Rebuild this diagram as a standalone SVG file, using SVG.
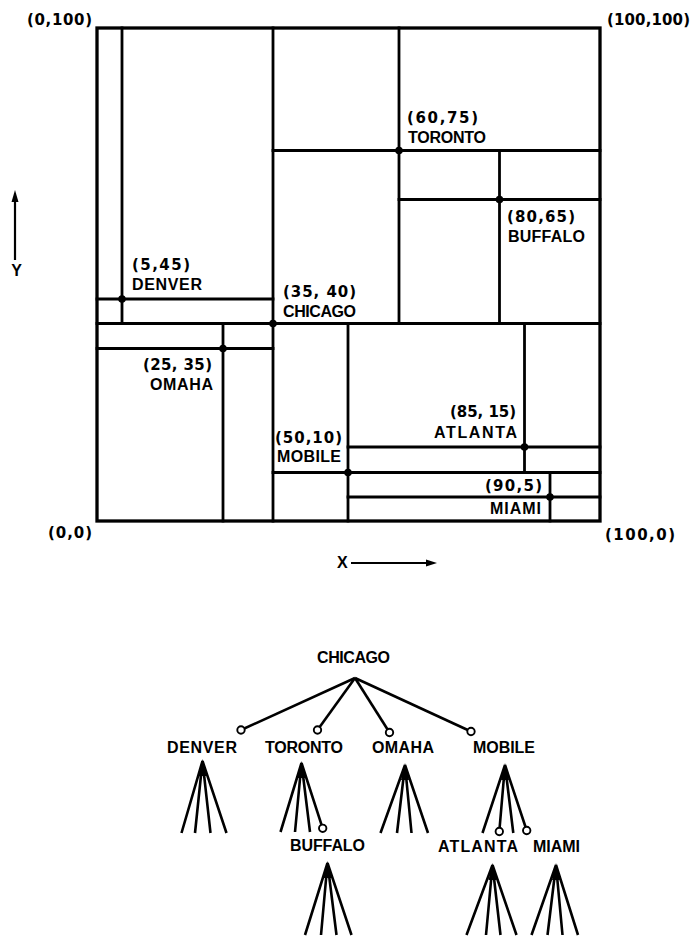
<svg xmlns="http://www.w3.org/2000/svg" width="692" height="941" viewBox="0 0 692 941">
<style>
.ln{stroke:#000;stroke-width:2.8;fill:none;stroke-linecap:square}
.bd{stroke:#000;stroke-width:3.3;fill:none}
.dot{fill:#000}
.t{font-family:"Liberation Sans","DejaVu Sans",sans-serif;font-weight:bold;font-size:16px;fill:#000}
.n{font-family:"DejaVu Sans","Liberation Sans",sans-serif;font-weight:bold;font-size:15px;fill:#000}
.fan{stroke:#000;stroke-width:2.6;fill:none;stroke-linecap:butt}
.oc{fill:#fff;stroke:#000;stroke-width:1.9}
.ax{stroke:#000;stroke-width:2.2;fill:none}
</style>
<rect width="692" height="941" fill="#fff"/>
<g id="map">
  <rect class="bd" x="97" y="28" width="503" height="493"/>
  <g id="chicago-split">
    <line class="ln" x1="273" y1="28" x2="273" y2="521"/>
    <line class="ln" x1="97" y1="323.5" x2="600" y2="323.5"/>
  </g>
  <g id="denver-split">
    <line class="ln" x1="122" y1="28" x2="122" y2="323.5"/>
    <line class="ln" x1="97" y1="299" x2="273" y2="299"/>
  </g>
  <g id="toronto-split">
    <line class="ln" x1="399" y1="28" x2="399" y2="323.5"/>
    <line class="ln" x1="273" y1="150.5" x2="600" y2="150.5"/>
  </g>
  <g id="buffalo-split">
    <line class="ln" x1="499.5" y1="150.5" x2="499.5" y2="323.5"/>
    <line class="ln" x1="399" y1="199.5" x2="600" y2="199.5"/>
  </g>
  <g id="omaha-split">
    <line class="ln" x1="223" y1="323.5" x2="223" y2="521"/>
    <line class="ln" x1="97" y1="348.5" x2="273" y2="348.5"/>
  </g>
  <g id="mobile-split">
    <line class="ln" x1="348" y1="323.5" x2="348" y2="521"/>
    <line class="ln" x1="273" y1="472.5" x2="600" y2="472.5"/>
  </g>
  <g id="atlanta-split">
    <line class="ln" x1="524.5" y1="323.5" x2="524.5" y2="472.5"/>
    <line class="ln" x1="348" y1="447" x2="600" y2="447"/>
  </g>
  <g id="miami-split">
    <line class="ln" x1="550" y1="472.5" x2="550" y2="521"/>
    <line class="ln" x1="348" y1="497" x2="600" y2="497"/>
  </g>
  <g id="points">
    <circle class="dot" cx="273" cy="323.5" r="3.8"/>
    <circle class="dot" cx="122" cy="299" r="3.8"/>
    <circle class="dot" cx="399" cy="150.5" r="3.8"/>
    <circle class="dot" cx="499.5" cy="199.5" r="3.8"/>
    <circle class="dot" cx="223" cy="348.5" r="3.8"/>
    <circle class="dot" cx="348" cy="472.5" r="3.8"/>
    <circle class="dot" cx="524.5" cy="447" r="3.8"/>
    <circle class="dot" cx="550" cy="497" r="3.8"/>
  </g>
  <g id="map-labels">
    <text class="n" x="407" y="123" textLength="71" lengthAdjust="spacing">(60,75)</text>
    <text class="t" x="408" y="143" textLength="78" lengthAdjust="spacing">TORONTO</text>
    <text class="n" x="507" y="222" textLength="68" lengthAdjust="spacing">(80,65)</text>
    <text class="t" x="508" y="242" textLength="77" lengthAdjust="spacing">BUFFALO</text>
    <text class="n" x="132" y="270" textLength="58" lengthAdjust="spacing">(5,45)</text>
    <text class="t" x="132" y="290" textLength="70" lengthAdjust="spacing">DENVER</text>
    <text class="n" x="283" y="297" textLength="73" lengthAdjust="spacing">(35, 40)</text>
    <text class="t" x="283" y="317" textLength="73" lengthAdjust="spacing">CHICAGO</text>
    <text class="n" x="143" y="370" textLength="69" lengthAdjust="spacing">(25, 35)</text>
    <text class="t" x="150" y="390" textLength="63" lengthAdjust="spacing">OMAHA</text>
    <text class="n" x="450" y="417" textLength="66" lengthAdjust="spacing">(85, 15)</text>
    <text class="t" x="434" y="438" textLength="83" lengthAdjust="spacing">ATLANTA</text>
    <text class="n" x="275" y="443" textLength="67" lengthAdjust="spacing">(50,10)</text>
    <text class="t" x="277" y="462" textLength="64" lengthAdjust="spacing">MOBILE</text>
    <text class="n" x="485" y="491" textLength="57" lengthAdjust="spacing">(90,5)</text>
    <text class="t" x="490" y="514" textLength="51" lengthAdjust="spacing">MIAMI</text>
  </g>
  <g id="corner-labels">
    <text class="n" x="27" y="25" textLength="65" lengthAdjust="spacing">(0,100)</text>
    <text class="n" x="607" y="25" textLength="83" lengthAdjust="spacing">(100,100)</text>
    <text class="n" x="48" y="538" textLength="44" lengthAdjust="spacing">(0,0)</text>
    <text class="n" x="605" y="540" textLength="70" lengthAdjust="spacing">(100,0)</text>
  </g>
  <g id="axes">
    <line class="ax" x1="15" y1="260" x2="15" y2="198"/>
    <polygon points="15,190 11.5,202 18.5,202" fill="#000"/>
    <text class="t" x="16.5" y="276" text-anchor="middle">Y</text>
    <text class="t" x="337" y="568">X</text>
    <line class="ax" x1="351" y1="563" x2="428" y2="563"/>
    <polygon points="437,563 426,559.5 426,566.5" fill="#000"/>
  </g>
</g>
<g id="connectors">
  <line class="fan" x1="355" y1="678" x2="241" y2="730"/>
  <line class="fan" x1="355" y1="678" x2="317.5" y2="730"/>
  <line class="fan" x1="355" y1="678" x2="389.5" y2="732.5"/>
  <line class="fan" x1="355" y1="678" x2="471" y2="731.5"/>
</g>
<g id="node-chicago">
  <text class="t" x="317" y="663" textLength="73" lengthAdjust="spacing">CHICAGO</text>
</g>
<g id="node-denver">
  <circle class="oc" cx="241" cy="730" r="3.7"/>
  <text class="t" x="167" y="753" textLength="70" lengthAdjust="spacing">DENVER</text>
  <path class="fan" d="M202.5,761 L181.5,833 M202.5,761 L195,833 M202.5,761 L210.5,833 M202.5,761 L226.5,833"/>
  <polygon points="202.5,759 198.5,776 206.5,776" fill="#000"/>
</g>
<g id="node-toronto">
  <circle class="oc" cx="317.5" cy="730" r="3.7"/>
  <text class="t" x="265" y="753" textLength="78" lengthAdjust="spacing">TORONTO</text>
  <path class="fan" d="M301.5,763 L280.5,832 M301.5,763 L295,832 M301.5,763 L310,832 M301.5,763 L322.7,828.3"/>
  <polygon points="301.5,761 297.5,778 305.5,778" fill="#000"/>
  <circle class="oc" cx="322.7" cy="828.3" r="3.7"/>
</g>
<g id="node-omaha">
  <circle class="oc" cx="389.5" cy="732.5" r="3.7"/>
  <text class="t" x="372" y="753" textLength="62" lengthAdjust="spacing">OMAHA</text>
  <path class="fan" d="M405,765 L380.5,833 M405,765 L397,833 M405,765 L411.5,833 M405,765 L428,833"/>
  <polygon points="405,763 401,780 409,780" fill="#000"/>
</g>
<g id="node-mobile">
  <circle class="oc" cx="471" cy="731.5" r="3.7"/>
  <text class="t" x="473" y="753" textLength="62" lengthAdjust="spacing">MOBILE</text>
  <path class="fan" d="M505,765 L482.5,833 M505,765 L499.3,831.5 M505,765 L513.3,833 M505,765 L526.7,830.5"/>
  <polygon points="505,763 501,780 509,780" fill="#000"/>
  <circle class="oc" cx="499.3" cy="831.5" r="3.7"/>
  <circle class="oc" cx="526.7" cy="830.5" r="3.7"/>
</g>
<g id="node-buffalo">
  <text class="t" x="290" y="851" textLength="75" lengthAdjust="spacing">BUFFALO</text>
  <path class="fan" d="M327.5,863 L305,935 M327.5,863 L321,935 M327.5,863 L336.5,935 M327.5,863 L351.5,935"/>
  <polygon points="327.5,861 323.5,878 331.5,878" fill="#000"/>
</g>
<g id="node-atlanta">
  <text class="t" x="438" y="852" textLength="80" lengthAdjust="spacing">ATLANTA</text>
  <path class="fan" d="M492.5,865 L466.5,935 M492.5,865 L486,935 M492.5,865 L500.5,935 M492.5,865 L516.5,935"/>
  <polygon points="492.5,863 488.5,880 496.5,880" fill="#000"/>
</g>
<g id="node-miami">
  <text class="t" x="533" y="852" textLength="47" lengthAdjust="spacing">MIAMI</text>
  <path class="fan" d="M556,865 L531.5,935 M556,865 L547.5,935 M556,865 L562.5,935 M556,865 L578,935"/>
  <polygon points="556,863 552,880 560,880" fill="#000"/>
</g>
</svg>
